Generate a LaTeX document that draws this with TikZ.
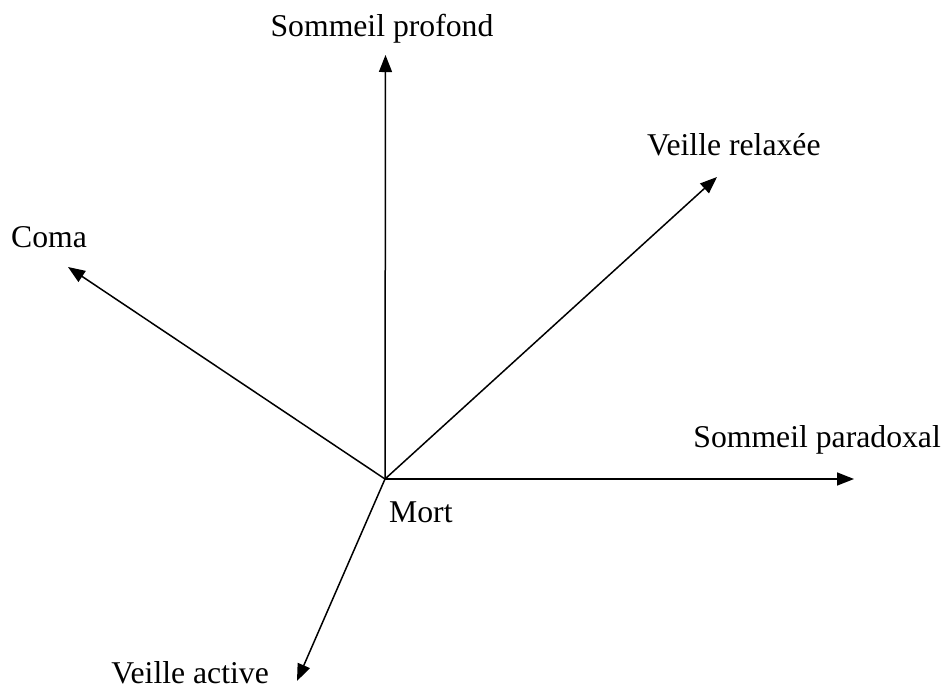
\documentclass[tikz,border=0pt]{standalone}
\usepackage{fontspec}
\setmainfont{Liberation Serif}
\usetikzlibrary{arrows.meta}
\begin{document}
\begin{tikzpicture}[x=1pt,y=-1pt,
  axis/.style={line width=1.5pt,-{Triangle[length=17pt,width=13pt]}},
  lbl/.style={font=\fontsize{31.7pt}{36pt}\selectfont,inner sep=0pt}]
\useasboundingbox (0,0) rectangle (943,689);
\coordinate (O) at (385,479);
\coordinate (up) at (385.5,55);
\coordinate (vr) at (717,177);
\coordinate (co) at (68,267);
\coordinate (sp) at (854,479);
\coordinate (va) at (297,681);
\draw[axis] (O) -- (up);
\draw[axis] (O) -- (vr);
\draw[axis] (O) -- (co);
\draw[axis] (O) -- (sp);
\draw[axis] (O) -- (va);
\node[lbl,anchor=base] (tsp) at (382,36) {Sommeil profond};
\node[lbl,anchor=base west] (tvr) at (647,155) {Veille relaxée};
\node[lbl,anchor=base west] (tco) at (11,247) {Coma};
\node[lbl,anchor=base east] (tpa) at (941,447) {Sommeil paradoxal};
\node[lbl,anchor=base west] (tmo) at (389,522) {Mort};
\node[lbl,anchor=base east] (tva) at (269,683) {Veille active};
\end{tikzpicture}
\end{document}
